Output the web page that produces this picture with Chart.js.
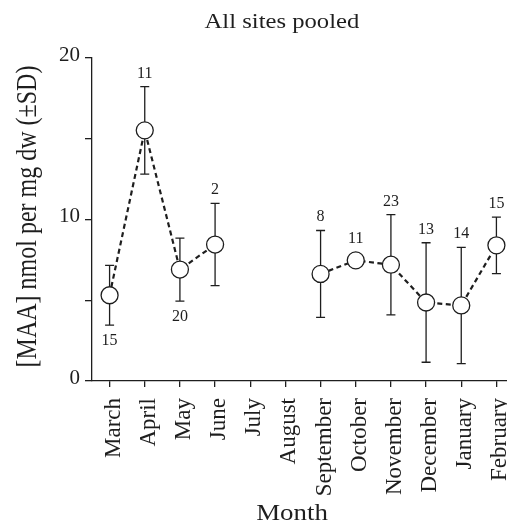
<!DOCTYPE html>
<html>
<head>
<meta charset="utf-8">
<script src="https://cdn.jsdelivr.net/npm/chart.js@4/dist/chart.umd.min.js"></script>
<style>
  html, body { margin: 0; padding: 0; overflow: hidden; background: #fff; }
  canvas { display: block; }
</style>
</head>
<body>
<canvas id="maa" width="514" height="525"></canvas>
<script>
// Monthly MAA concentration, all sites pooled (mean ± SD, n per month)
const months   = ['March', 'April', 'May', 'June', 'July', 'August', 'September',
                  'October', 'November', 'December', 'January', 'February'];
const meanMAA  = [5.31, 15.52, 6.90, 8.45, null, null, 6.63, 7.47, 7.20, 4.86, 4.68, 8.40];
const sdMAA    = [1.85, 2.71, 1.95, 2.55, null, null, 2.69, 0, 3.10, 3.70, 3.60, 1.75];
const sampleN  = [15, 11, 20, 2, null, null, 8, 11, 23, 13, 14, 15];
const yLabelValues = [0, 10, 20];

const chartTitle = 'All sites pooled';
const yTitle = '[MAA] nmol per mg dw (\u00B1SD)';
const xTitle = 'Month';

const serif = '"Liberation Serif", "Times New Roman", Times, serif';
const ink = '#1e1e1e';
const pointRadius = 8.5;

// n labels that sit under the error bar instead of over it
const countsBelow = new Set(['March', 'May']);

const errorBars = {
  id: 'errorBars',
  beforeDatasetsDraw(chart) {
    const { ctx } = chart;
    const y = chart.scales.y;
    const pts = chart.getDatasetMeta(0).data;
    ctx.save();
    ctx.strokeStyle = ink;
    ctx.lineWidth = 1.3;
    pts.forEach((pt, i) => {
      if (meanMAA[i] == null || !sdMAA[i]) return;
      const top = y.getPixelForValue(meanMAA[i] + sdMAA[i]);
      const bot = y.getPixelForValue(meanMAA[i] - sdMAA[i]);
      const cap = 4.5;
      ctx.beginPath();
      ctx.moveTo(pt.x, top); ctx.lineTo(pt.x, bot);
      ctx.moveTo(pt.x - cap, top); ctx.lineTo(pt.x + cap, top);
      ctx.moveTo(pt.x - cap, bot); ctx.lineTo(pt.x + cap, bot);
      ctx.stroke();
    });
    ctx.restore();
  }
};

const countLabels = {
  id: 'countLabels',
  afterDatasetsDraw(chart) {
    const { ctx } = chart;
    const y = chart.scales.y;
    const pts = chart.getDatasetMeta(0).data;
    ctx.save();
    ctx.fillStyle = ink;
    ctx.font = '16px ' + serif;
    ctx.textAlign = 'center';
    pts.forEach((pt, i) => {
      if (sampleN[i] == null) return;
      const sd = sdMAA[i] || 0;
      if (countsBelow.has(months[i])) {
        const bot = Math.max(y.getPixelForValue(meanMAA[i] - sd), pt.y + pointRadius);
        ctx.textBaseline = 'top';
        ctx.fillText(String(sampleN[i]), pt.x, bot + 8);
      } else {
        const top = Math.min(y.getPixelForValue(meanMAA[i] + sd), pt.y - pointRadius);
        ctx.textBaseline = 'alphabetic';
        ctx.fillText(String(sampleN[i]), pt.x, top - 9);
      }
    });
    ctx.restore();
  }
};

const titles = {
  id: 'titles',
  afterDraw(chart) {
    const { ctx, chartArea: a } = chart;
    ctx.save();
    ctx.fillStyle = ink;
    ctx.textAlign = 'center';
    ctx.textBaseline = 'alphabetic';

    // chart title
    ctx.save();
    ctx.translate(a.left + a.width * 0.45, a.top - 30);
    ctx.scale(1.12, 1);
    ctx.font = '22px ' + serif;
    ctx.fillText(chartTitle, 0, 0);
    ctx.restore();

    // x-axis title
    ctx.save();
    ctx.translate(a.left + a.width * 0.474, chart.height - 5);
    ctx.scale(1.12, 1);
    ctx.font = '24px ' + serif;
    ctx.fillText(xTitle, 0, 0);
    ctx.restore();

    // y-axis title, rotated
    ctx.save();
    ctx.translate(a.left - 56, (a.top + a.bottom) / 2 - 3);
    ctx.rotate(-Math.PI / 2);
    ctx.scale(0.8, 1);
    ctx.font = '30px ' + serif;
    ctx.fillText(yTitle, 0, 0);
    ctx.restore();

    ctx.restore();
  }
};

new Chart(document.getElementById('maa'), {
  type: 'line',
  data: {
    labels: months,
    datasets: [{
      data: meanMAA,
      borderColor: ink,
      borderWidth: 2.2,
      borderDash: [5, 3.5],
      spanGaps: false,
      tension: 0,
      pointRadius: pointRadius,
      pointHoverRadius: pointRadius,
      pointBackgroundColor: '#fff',
      pointBorderColor: ink,
      pointBorderWidth: 1.3
    }]
  },
  options: {
    responsive: false,
    devicePixelRatio: 1,
    animation: false,
    events: [],
    layout: { autoPadding: false, padding: { top: 58, right: 0, bottom: 0, left: 0 } },
    plugins: { legend: { display: false }, title: { display: false }, tooltip: { enabled: false } },
    scales: {
      x: {
        type: 'category',
        offset: true,
        afterFit(scale) {
          scale.height = 144;
          scale.paddingLeft = 0;
          scale.paddingRight = 0;
        },
        border: { display: true, color: ink, width: 1.3 },
        grid: { drawOnChartArea: false, drawTicks: true, tickLength: 6, color: ink, lineWidth: 1.3 },
        ticks: {
          autoSkip: false,
          minRotation: 90,
          maxRotation: 90,
          padding: 11,
          labelOffset: 4,
          color: ink,
          font: { family: serif, size: 23 }
        }
      },
      y: {
        min: 0,
        max: 20,
        afterFit(scale) {
          scale.width = 92;
          scale.paddingTop = 0;
          scale.paddingBottom = 0;
        },
        border: { display: true, color: ink, width: 1.3 },
        grid: { drawOnChartArea: false, drawTicks: true, tickLength: 7, color: ink, lineWidth: 1.3 },
        ticks: {
          stepSize: 5,
          padding: 5,
          labelOffset: -3,
          color: ink,
          font: { family: serif, size: 21 },
          callback: (v) => (yLabelValues.includes(v) ? String(v) : '')
        }
      }
    }
  },
  plugins: [errorBars, countLabels, titles]
});
</script>
</body>
</html>
